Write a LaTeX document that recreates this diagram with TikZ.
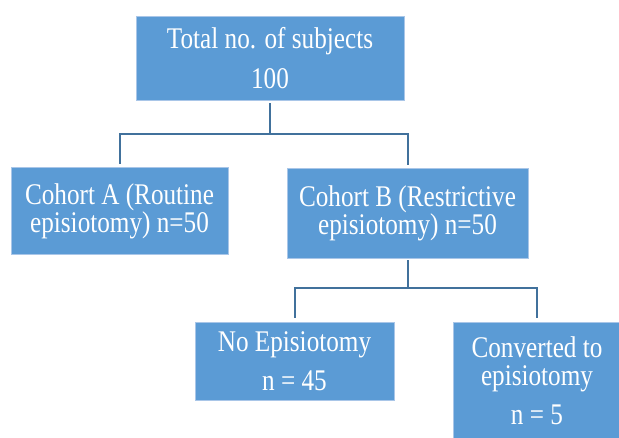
\documentclass[tikz,border=0pt]{standalone}
\usepackage{fontspec}
\newfontfamily\boxfont[FakeStretch=0.84]{Liberation Serif}
\usetikzlibrary{positioning}
\definecolor{boxblue}{HTML}{5B9BD5}
\definecolor{boxedge}{HTML}{A9C6E8}
\definecolor{linkblue}{HTML}{41719C}

\begin{document}
\begin{tikzpicture}[x=1pt, y=-1pt,
      stufe/.style={draw=boxedge, line width=0.8pt, fill=boxblue,
        text=white, align=center, inner sep=0pt,
        font=\boxfont\fontsize{30}{28}\selectfont},
      link/.style={linkblue, line width=2pt}]
    \useasboundingbox (0,0) rectangle (619,438);
    \begin{scope}
    \clip (0,0) rectangle (619,438);
    \node[stufe, minimum width=268pt, minimum height=84pt] (total) at (270,58)
      {Total no. of subjects\\[12pt]100};
    \node[stufe, minimum width=217pt, minimum height=87pt] (cohA) at (119.5,211)
      {Cohort A (Routine\\episiotomy) n=50};
    \node[stufe, minimum width=241pt, minimum height=90pt] (cohB) at (407.5,213)
      {Cohort B (Restrictive\\episiotomy) n=50};
    \node[stufe, minimum width=199pt, minimum height=78pt] (noepi) at (294.5,361)
      {No Episiotomy\\[11pt]n = 45};
    \node[stufe, minimum width=168pt, minimum height=118pt] (conv) at (537,381)
      {Converted to\\episiotomy\\[11pt]n = 5};
    \end{scope}
    % branching lines
    \coordinate (split1) at (270,134);
    \coordinate (split2) at (407.5,288);
    \draw[link, shorten <=3pt] (total.south) -- (split1);
    \draw[link, shorten >=3pt] (split1) -| (cohA.north);
    \draw[link, shorten >=3pt] (split1) -| (cohB.north);
    \draw[link, shorten <=2pt] (cohB.south) -- (split2);
    \draw[link, shorten >=4pt] (split2) -| (noepi.north);
    \draw[link, shorten >=4pt] (split2) -| (conv.north);
  \end{tikzpicture}
\end{document}
